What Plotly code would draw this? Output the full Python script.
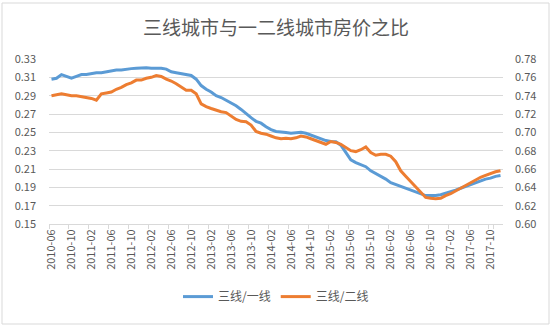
import pandas as pd
import plotly.graph_objects as go

# Monthly categories, 2010-06 .. 2017-12
months = [p.strftime("%Y-%m") for p in pd.period_range("2010-06", "2017-12", freq="M")]

# Tier-3 / tier-1 price ratio (left axis)
ratio_t3_t1 = [
    0.308, 0.309, 0.313, 0.311, 0.309, 0.311, 0.313, 0.313, 0.314, 0.315,
    0.315, 0.316, 0.3175, 0.318, 0.318, 0.319, 0.3195, 0.320, 0.3205, 0.3205,
    0.320, 0.320, 0.320, 0.319, 0.316, 0.315, 0.314, 0.313, 0.312, 0.308,
    0.301, 0.297, 0.294, 0.290, 0.288, 0.285, 0.282, 0.279, 0.275, 0.270,
    0.266, 0.262, 0.260, 0.256, 0.253, 0.251, 0.250, 0.2498, 0.249, 0.2495,
    0.250, 0.249, 0.247, 0.245, 0.2435, 0.241, 0.240, 0.2398, 0.236, 0.228,
    0.220, 0.217, 0.215, 0.2125, 0.208, 0.205, 0.202, 0.199, 0.195, 0.193,
    0.191, 0.189, 0.187, 0.185, 0.183, 0.181, 0.181, 0.181, 0.182, 0.1835,
    0.185, 0.187, 0.189, 0.191, 0.193, 0.195, 0.1975, 0.199, 0.200, 0.202,
    0.203,
]

# Tier-3 / tier-2 price ratio (right axis)
ratio_t3_t2 = [
    0.740, 0.741, 0.742, 0.741, 0.740, 0.740, 0.739, 0.738, 0.737, 0.735,
    0.742, 0.743, 0.744, 0.747, 0.749, 0.752, 0.754, 0.757, 0.757, 0.759,
    0.760, 0.762, 0.761, 0.758, 0.756, 0.753, 0.749, 0.746, 0.746, 0.742,
    0.731, 0.728, 0.726, 0.724, 0.7225, 0.7215, 0.718, 0.714, 0.712, 0.7116,
    0.708, 0.701, 0.699, 0.698, 0.696, 0.694, 0.693, 0.6935, 0.693, 0.694,
    0.696, 0.695, 0.693, 0.691, 0.689, 0.687, 0.690, 0.689, 0.687, 0.683,
    0.680, 0.679, 0.681, 0.684, 0.678, 0.675, 0.676, 0.676, 0.674, 0.668,
    0.658, 0.652, 0.646, 0.640, 0.635, 0.629, 0.628, 0.6275, 0.628, 0.631,
    0.633, 0.636, 0.639, 0.642, 0.645, 0.648, 0.651, 0.653, 0.655, 0.657,
    0.658,
]

tick_months = months[::4]
left_ticks = [0.15, 0.17, 0.19, 0.21, 0.23, 0.25, 0.27, 0.29, 0.31, 0.33]
right_ticks = [0.60, 0.62, 0.64, 0.66, 0.68, 0.70, 0.72, 0.74, 0.76, 0.78]

FONT = "Noto Sans CJK SC, Noto Sans, sans-serif"
GREY = "#595959"

fig = go.Figure()
fig.add_trace(go.Scatter(
    x=months, y=ratio_t3_t1, name="三线/一线", mode="lines",
    line=dict(color="#5b9bd5", width=3), yaxis="y",
))
fig.add_trace(go.Scatter(
    x=months, y=ratio_t3_t2, name="三线/二线", mode="lines",
    line=dict(color="#ed7d31", width=3), yaxis="y2",
))

fig.update_layout(
    width=552, height=327,
    margin=dict(l=49, r=49, t=59, b=103),
    paper_bgcolor="white", plot_bgcolor="white",
    font=dict(family=FONT, size=11, color=GREY),
    title=dict(text="三线城市与一二线城市房价之比", x=0.5, xanchor="center",
               y=1 - 28 / 327, yanchor="middle",
               font=dict(family=FONT, size=19, color=GREY)),
    showlegend=True,
    legend=dict(orientation="h", x=0.5, xanchor="center", y=-0.44, yanchor="middle",
                font=dict(size=12, color=GREY), itemwidth=30, bgcolor="rgba(0,0,0,0)"),
    xaxis=dict(
        type="category", categoryorder="array", categoryarray=months,
        tickmode="array", tickvals=tick_months, ticktext=tick_months,
        tickangle=-90, tickson="boundaries", ticks="outside", ticklen=4,
        tickcolor="#d9d9d9", showgrid=False, showline=True, linecolor="#d9d9d9",
        zeroline=False, range=[-0.5, len(months) - 0.5],
    ),
    yaxis=dict(
        range=[0.15, 0.33], tickmode="array", tickvals=left_ticks,
        tickformat=".2f", showgrid=True, gridcolor="#d9d9d9", gridwidth=1,
        zeroline=False, showline=False, ticklabelstandoff=12,
    ),
    yaxis2=dict(
        range=[0.60, 0.78], tickmode="array", tickvals=right_ticks,
        tickformat=".2f", overlaying="y", side="right", showgrid=False,
        zeroline=False, showline=False, ticklabelstandoff=11,
    ),
    shapes=[dict(
        type="rect", xref="paper", yref="paper",
        x0=(2 - 49) / 454, x1=(549 - 49) / 454,
        y0=(224 - 324) / 165, y1=(224 - 3) / 165,
        line=dict(color="#d9d9d9", width=1), fillcolor="rgba(0,0,0,0)", layer="below",
    )],
)

fig.write_html("out.html")
